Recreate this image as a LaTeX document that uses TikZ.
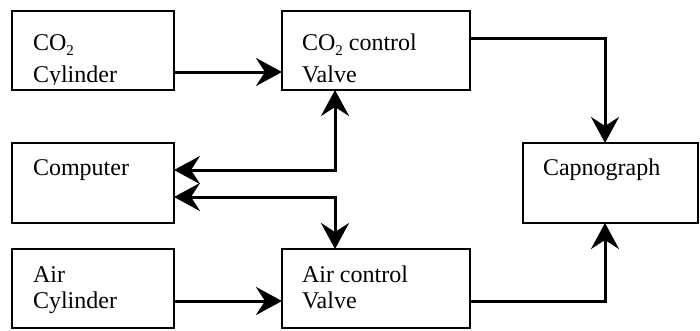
\documentclass[tikz,border=0pt]{standalone}
\usepackage{fontspec}
\setmainfont{Liberation Serif}
\usetikzlibrary{arrows.meta}
\begin{document}
\begin{tikzpicture}[x=1pt,y=-1pt,
  box/.style={draw, line width=1.4pt, inner sep=0pt, outer sep=0pt, rectangle},
  txt/.style={anchor=base west, inner sep=0pt, outer sep=0pt, font=\fontsize{24}{28}\selectfont},
  tip/.tip={Stealth[length=26pt, width=28pt, inset=9pt]},
  conn/.style={line width=3pt, -tip},
  conn2/.style={line width=3pt, tip-tip}]
\useasboundingbox (0,0) rectangle (700,330);
\newcommand{\subtwo}{\raisebox{-5pt}{\fontsize{15}{15}\selectfont 2}}
% boxes
\node[box, minimum width=162pt, minimum height=79pt] (co2cyl) at (93,50.5) {};
\node[box, minimum width=188pt, minimum height=79pt] (co2valve) at (376,50.5) {};
\node[box, minimum width=162pt, minimum height=80pt] (comp) at (93,183) {};
\node[box, minimum width=175pt, minimum height=80pt] (capno) at (610.5,183) {};
\node[box, minimum width=162pt, minimum height=79pt] (aircyl) at (93,288.5) {};
\node[box, minimum width=188pt, minimum height=79pt] (airvalve) at (376,288.5) {};
% texts
\node[txt] (t1) at (33,50) {CO\subtwo};
\begin{scope}
\clip (12,11) rectangle (174,84);
\node[txt] (t2) at (33,82) {Cylinder};
\end{scope}
\node[txt] (t3) at (302,50) {CO\subtwo\ control};
\node[txt] (t4) at (302,82) {Valve};
\node[txt] (t5) at (33,175) {Computer};
\node[txt] (t6) at (543,175) {Capnograph};
\node[txt] (t7) at (33,282) {Air};
\node[txt] (t8) at (33,308) {Cylinder};
\node[txt] (t9) at (302,282) {Air control};
\node[txt] (t10) at (302,308) {Valve};
% connectors
\draw[conn] ([yshift=-21.5pt]co2cyl.east) -- ([yshift=-21.5pt]co2valve.west);
\draw[conn] ([yshift=-12.5pt]aircyl.east) -- ([yshift=-12.5pt]airvalve.west);
\draw[conn] ([yshift=12.5pt]co2valve.east) -| ([xshift=-5.5pt]capno.north);
\draw[conn] ([yshift=-12.5pt]airvalve.east) -| ([xshift=-5.5pt]capno.south);
\draw[conn2] ([yshift=13pt]comp.east) -| ([xshift=-41pt]co2valve.south);
\draw[conn2] ([yshift=-14pt]comp.east) -| ([xshift=-41pt]airvalve.north);
\end{tikzpicture}
\end{document}
